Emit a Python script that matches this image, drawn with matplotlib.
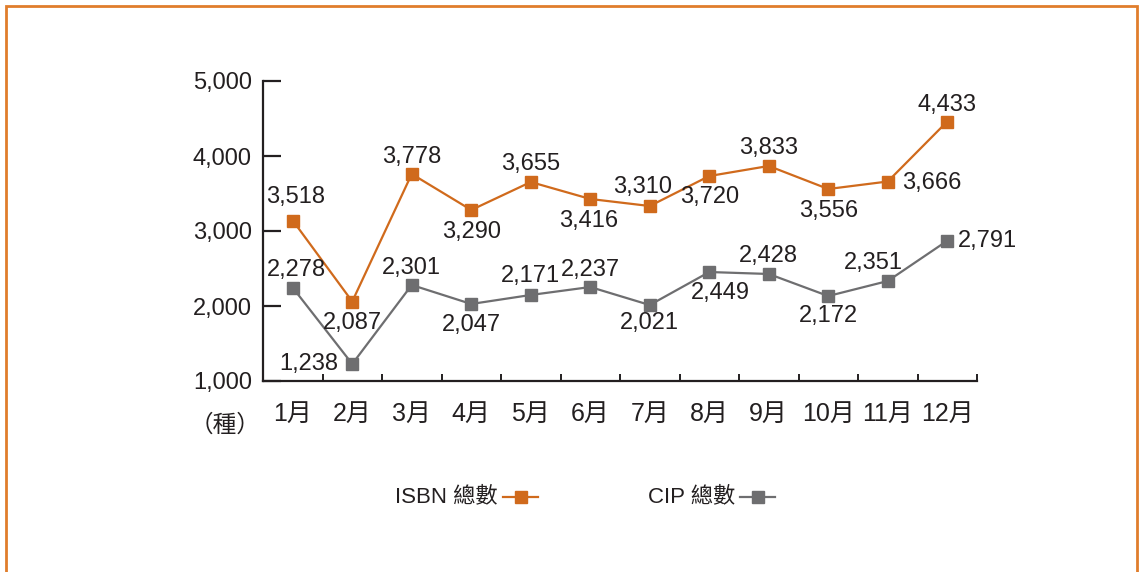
import matplotlib
matplotlib.use("Agg")
import matplotlib.pyplot as plt
from matplotlib.patches import Rectangle
from matplotlib.lines import Line2D

plt.rcParams['font.family'] = ['Liberation Sans', 'Noto Sans CJK TC', 'DejaVu Sans']

months = ["1月", "2月", "3月", "4月", "5月", "6月", "7月", "8月", "9月", "10月", "11月", "12月"]
isbn_values = [3140, 2060, 3760, 3280, 3653, 3427, 3333, 3733, 3867, 3560, 3660, 4460]
isbn_labels = ["3,518", "2,087", "3,778", "3,290", "3,655", "3,416", "3,310", "3,720", "3,833", "3,556", "3,666", "4,433"]
cip_values = [2244, 1227, 2280, 2027, 2147, 2253, 2013, 2453, 2427, 2133, 2333, 2870]
cip_labels = ["2,278", "1,238", "2,301", "2,047", "2,171", "2,237", "2,021", "2,449", "2,428", "2,172", "2,351", "2,791"]
yticks = [1000, 2000, 3000, 4000, 5000]
ytick_labels = ["1,000", "2,000", "3,000", "4,000", "5,000"]

ORANGE = "#D06A1C"
GRAY = "#6E6E70"
TEXT = "#231F20"
FS = 17

W, H = 1139, 572
fig = plt.figure(figsize=(W / 100, H / 100), dpi=100)
ax = fig.add_axes([263 / W, 1 - 381 / H, (977 - 263) / W, (381 - 81) / H])

x = list(range(len(months)))
ax.plot(x, isbn_values, color=ORANGE, lw=1.6, marker="s", ms=8.5, mec=ORANGE, mfc=ORANGE, zorder=3)
ax.plot(x, cip_values, color=GRAY, lw=1.6, marker="s", ms=8.5, mec=GRAY, mfc=GRAY, zorder=3)

ax.set_xlim(-0.5, 11.5)
ax.set_ylim(1000, 5000)
for s in ["top", "right"]:
    ax.spines[s].set_visible(False)
for s in ["left", "bottom"]:
    ax.spines[s].set_color(TEXT)
    ax.spines[s].set_linewidth(1.6)

ax.set_yticks(yticks)
ax.set_yticklabels(ytick_labels, fontsize=FS, color=TEXT)
ax.tick_params(axis="y", direction="in", length=13, width=1.6, color=TEXT, pad=8)
ax.set_xticks(x)
ax.set_xticklabels(months, fontsize=FS + 1, color=TEXT)
ax.tick_params(axis="x", which="major", length=0, pad=15)
ax.set_xticks([i + 0.5 for i in range(12)], minor=True)
ax.tick_params(axis="x", which="minor", direction="in", length=5, width=1.4, color=TEXT)

# label offsets in pixels (dx, dy) relative to point, with alignment
isbn_off = [(3, 23, "center"), (0, -21, "center"), (0, 17, "center"), (0, -22, "center"),
            (0, 18, "center"), (-2, -22, "center"), (-7, 19, "center"), (0, -21, "center"),
            (0, 18, "center"), (0, -22, "center"), (14, -2, "left"), (0, 17, "center")]
cip_off = [(4, 18, "center"), (-14, 0, "right"), (0, 17, "center"), (0, -21, "center"),
           (0, 19, "center"), (0, 17, "center"), (0, -18, "center"), (11, -21, "center"),
           (0, 18, "center"), (0, -20, "center"), (-14, 18, "center"), (11, 0, "left")]

px2pt = 72 / 100
for vals, labs, offs in [(isbn_values, isbn_labels, isbn_off), (cip_values, cip_labels, cip_off)]:
    for i, (v, lab, (dx, dy, ha)) in enumerate(zip(vals, labs, offs)):
        ax.annotate(lab, (i, v), xytext=(dx * px2pt, dy * px2pt), textcoords="offset points",
                    ha=ha, va="center", fontsize=FS, color=TEXT, zorder=4)

fig.text(225 / W, 1 - 426 / H, "（種）", ha="center", va="center", fontsize=FS, color=TEXT)

# legend
LFS = 16
fig.text(498 / W, 1 - 497 / H, "ISBN 總數", ha="right", va="center", fontsize=LFS, color=TEXT)
fig.add_artist(Line2D([503 / W, 538 / W], [1 - 497 / H] * 2, color=ORANGE, lw=1.6))
fig.add_artist(Line2D([521 / W], [1 - 497 / H], color=ORANGE, marker="s", ms=8.5, ls="none"))
fig.text(735 / W, 1 - 497 / H, "CIP 總數", ha="right", va="center", fontsize=LFS, color=TEXT)
fig.add_artist(Line2D([740 / W, 775 / W], [1 - 497 / H] * 2, color=GRAY, lw=1.6))
fig.add_artist(Line2D([758 / W], [1 - 497 / H], color=GRAY, marker="s", ms=8.5, ls="none"))

# outer frame
fig.add_artist(Rectangle((6 / W, -0.2), (1137 - 6) / W, 1.2 - 6 / H, transform=fig.transFigure,
                         fill=False, edgecolor="#E07D2C", lw=2.0))

fig.savefig("out.png", dpi=100)
